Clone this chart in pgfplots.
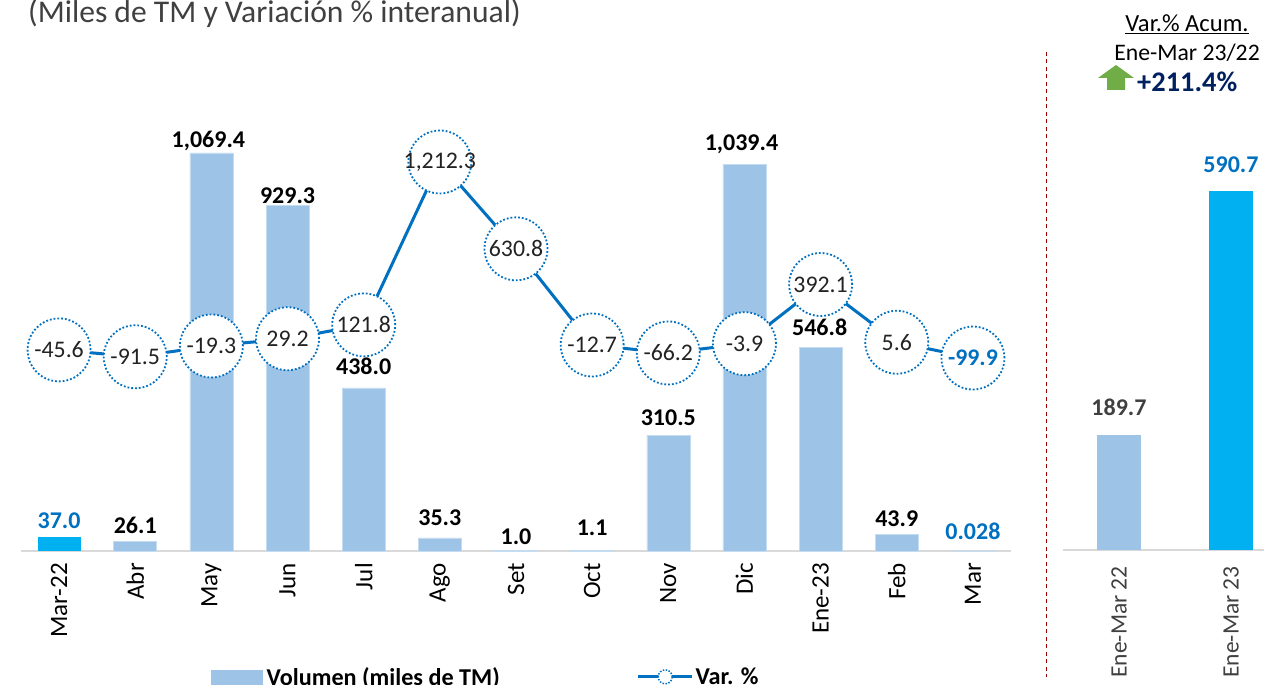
\documentclass[border=0pt]{standalone}
\usepackage{fontspec}
\setmainfont{Carlito}
\usepackage{pgfplots}
\pgfplotsset{compat=1.18}
\definecolor{barblue}{HTML}{9DC3E6}
\definecolor{cyanbar}{HTML}{00B0F0}
\definecolor{vblue}{HTML}{0070C0}
\definecolor{axgrey}{HTML}{D9D9D9}
\definecolor{navy}{HTML}{002060}
\definecolor{darkg}{HTML}{404040}
\definecolor{arrowg}{HTML}{70AD47}
\protected\def\lab#1#2#3{\raisebox{#1pt}{\textcolor{black}{\textbf{#3}}\kern#2pt}}
\protected\def\labb#1#2{\raisebox{#1pt}{\textcolor{vblue}{\textbf{#2}}}}
\protected\def\labg#1{\textcolor{darkg}{\textbf{#1}}}
\protected\def\labc#1{\textcolor{vblue}{\textbf{#1}}}
\protected\def\vlab#1{\textcolor{vblue}{\textbf{#1}}}
\newcommand{\fs}[1]{\fontsize{#1}{#1}\selectfont}
\begin{document}
\begin{tikzpicture}[x=1pt,y=1pt]
\clip (0,0) rectangle (1264,685);
\path[fill=white] (0,0) rectangle (1264,685);
% title
\node[anchor=base west,inner sep=0pt,text=darkg] at (28,662) {\fs{31.6}(Miles de TM y Variación \% interanual)};
% main bars
\begin{axis}[
  at={(21pt,134pt)},anchor=south west,scale only axis,width=990pt,height=451pt,
  xmin=-0.5,xmax=12.5,ymin=0,ymax=1211.7,
  axis y line=none,axis x line=bottom,
  x axis line style={draw=axgrey,line width=2pt,-},
  xtick={0,1,2,3,4,5,6,7,8,9,10,11,12},
  xticklabels={Mar-22,Abr,May,Jun,Jul,Ago,Set,Oct,Nov,Dic,Ene-23,Feb,Mar},
  major tick length=0pt,
  xticklabel style={yshift=-12pt,rotate=90,anchor=east,inner sep=0pt,font=\fs{25}},
  ybar,bar shift=0pt,bar width=43pt,
  point meta=explicit symbolic,
  nodes near coords,
  every node near coord/.append style={anchor=base,inner sep=0pt,font=\fs{24},yshift=0pt},
  clip=false,
]
\addplot[fill=barblue,draw=barblue!60!white,line width=0.5pt] coordinates {
 (1,26.1)[\lab{8}{0}{26.1}]
 (2,1069.4)[\lab{5}{6}{1,069.4}]
 (3,929.3)[\lab{2}{0}{929.3}]
 (4,438.0)[\lab{13}{0}{438.0}]
 (5,35.3)[\lab{12}{0}{35.3}]
 (6,1.0)[\lab{6}{0}{1.0}]
 (7,1.1)[\lab{15}{0}{1.1}]
 (8,310.5)[\lab{10}{0}{310.5}]
 (9,1039.4)[\lab{14}{6}{1,039.4}]
 (10,546.8)[\lab{12}{2}{546.8}]
 (11,43.9)[\lab{8}{0}{43.9}]
 (12,0.028)[\labb{11}{0.028}]
};
\addplot[fill=cyanbar,draw=none] coordinates {(0,37.0)[\labb{9}{37.0}]};
\end{axis}
% variation line
\begin{axis}[
  at={(21pt,134pt)},anchor=south west,scale only axis,width=990pt,height=451pt,
  xmin=-0.5,xmax=12.5,ymin=-1391.6,ymax=1627.2,
  hide axis,clip=false,
  point meta=explicit symbolic,
  legend style={draw=none,fill=none,at={(0.192,-0.279)},anchor=west,legend columns=2,
     font=\fs{24.2}\bfseries,inner sep=0pt,row sep=0pt,
     cells={anchor=west}},
]
\addlegendimage{legend image code/.code={\fill[barblue] (0pt,-7pt) rectangle (51pt,7pt);}}
\addlegendentry{\kern2pt Volumen (miles de TM)\rule{135pt}{0pt}}
\addlegendimage{legend image code/.code={
  \draw[vblue,line width=2.8pt] (0pt,0pt) -- (54pt,0pt);
  \draw[vblue,fill=white,line width=1.5pt,dash pattern=on 1.5pt off 1.5pt] (27pt,0pt) circle (7pt);}}
\addlegendentry{Var. \%}
\addplot[vblue,line width=3pt,mark=*,mark size=31.5pt,
  mark options={fill=white,draw=vblue,line width=1.8pt,dash pattern=on 1.8pt off 2pt},
  nodes near coords,forget plot,
  every node near coord/.append style={anchor=center,inner sep=0pt,font=\fs{23.8},text=darkg!55!black}]
 coordinates {
 (0,-45.6)[-45.6]
 (1,-91.5)[-91.5]
 (2,-19.3)[-19.3]
 (3,29.2)[29.2]
 (4,121.8)[121.8]
 (5,1212.3)[1,212.3]
 (6,630.8)[630.8]
 (7,-12.7)[-12.7]
 (8,-66.2)[-66.2]
 (9,-3.9)[-3.9]
 (10,392.1)[392.1]
 (11,5.6)[5.6]
 (12,-99.9)[\vlab{-99.9}]
};
\end{axis}
% right panel
\begin{axis}[
  at={(1063pt,135pt)},anchor=south west,scale only axis,width=224pt,height=449pt,
  xmin=-0.5,xmax=1.5,ymin=0,ymax=739.7,
  axis y line=none,axis x line=bottom,
  x axis line style={draw=axgrey,line width=2pt,-},
  xtick={0,1},xticklabels={Ene-Mar 22,Ene-Mar 23},
  major tick length=0pt,
  xticklabel style={yshift=-16pt,rotate=90,anchor=east,inner sep=0pt,font=\fs{23.5},text=darkg},
  ybar,bar shift=0pt,bar width=44pt,
  point meta=explicit symbolic,
  nodes near coords,
  every node near coord/.append style={anchor=base,inner sep=0pt,font=\fs{24},yshift=19pt},
  clip=false,
]
\addplot[fill=barblue,draw=none] coordinates {(0,189.7)[\labg{189.7}]};
\addplot[fill=cyanbar,draw=none] coordinates {(1,590.7)[\labc{590.7}]};
\end{axis}
% separator
\draw[color=red!60!black,line width=1pt,dash pattern=on 4pt off 3.5pt] (1046,633) -- (1046,8);
% top-right note
\node[anchor=base,inner sep=0pt] at (1187,653) {\fs{24.6}\underline{Var.\% Acum.}};
\node[anchor=base,inner sep=0pt] at (1187,624) {\fs{23.7}Ene-Mar 23/22};
\node[anchor=base west,inner sep=0pt,text=navy] at (1137,593) {\fs{28.4}\textbf{+211.4\%}};
\fill[arrowg] (1098,607) -- (1116,620) -- (1134,607) -- (1125,607) -- (1125,595) -- (1107,595) -- (1107,607) -- cycle;
\end{tikzpicture}
\end{document}
